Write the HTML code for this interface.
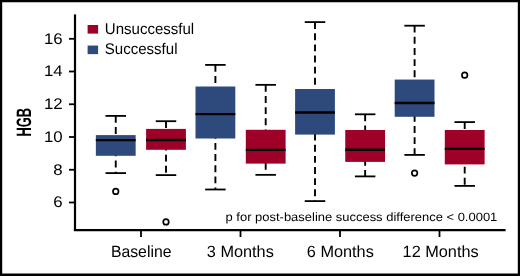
<!DOCTYPE html>
<html><head><meta charset="utf-8"><title>HGB boxplot</title>
<style>html,body{margin:0;padding:0;background:#fff;}svg{display:block;will-change:transform;}text{text-rendering:geometricPrecision;}</style>
</head><body>
<svg width="520" height="276" viewBox="0 0 520 276">
<rect x="0" y="0" width="520" height="276" fill="#fff"/>
<path d="M0 0H520V276H0Z M2.2 2.15H517.8V273.5H2.2Z" fill="#000" fill-rule="evenodd"/>
<g stroke="#000" stroke-width="2.2" fill="none">
<path d="M75 14.4V231"/>
<path d="M73.9 230.1H505.6"/>
</g>
<g stroke="#000" stroke-width="1.8" fill="none">
<path d="M69 38.8H75"/>
<path d="M69 71.5H75"/>
<path d="M69 104.25H75"/>
<path d="M69 137.0H75"/>
<path d="M69 169.75H75"/>
<path d="M69 202.5H75"/>
<path d="M141 230V237"/>
<path d="M240.5 230V237"/>
<path d="M340 230V237"/>
<path d="M439.5 230V237"/>
</g>
<g stroke="#000" stroke-width="1.8" fill="none">
<path d="M115.75 115.9V173.1" stroke-dasharray="6.9 4.25" stroke-width="1.9"/>
<path d="M105.5 115.9H126.0"/>
<path d="M105.5 173.1H126.0"/>
</g>
<rect x="95.85" y="135.1" width="39.8" height="20.7" fill="#2E4A7C"/>
<path d="M95.85 140.1H135.65" stroke="#000" stroke-width="2.4"/>
<circle cx="115.75" cy="191.4" r="2.75" fill="none" stroke="#000" stroke-width="1.7"/>
<g stroke="#000" stroke-width="1.8" fill="none">
<path d="M166.0 121.2V175.1" stroke-dasharray="6.9 4.25" stroke-width="1.9"/>
<path d="M155.75 121.2H176.25"/>
<path d="M155.75 175.1H176.25"/>
</g>
<rect x="146.1" y="128.9" width="39.8" height="20.9" fill="#9E0028"/>
<path d="M146.1 140.0H185.9" stroke="#000" stroke-width="2.4"/>
<circle cx="166.0" cy="221.9" r="2.75" fill="none" stroke="#000" stroke-width="1.7"/>
<g stroke="#000" stroke-width="1.8" fill="none">
<path d="M215.4 64.9V189.5" stroke-dasharray="6.9 4.25" stroke-width="1.9"/>
<path d="M205.15 64.9H225.65"/>
<path d="M205.15 189.5H225.65"/>
</g>
<rect x="195.5" y="86.5" width="39.8" height="52.0" fill="#2E4A7C"/>
<path d="M195.5 114.15H235.3" stroke="#000" stroke-width="2.4"/>
<g stroke="#000" stroke-width="1.8" fill="none">
<path d="M265.7 84.85V174.85" stroke-dasharray="6.9 4.25" stroke-width="1.9"/>
<path d="M255.45 84.85H275.95"/>
<path d="M255.45 174.85H275.95"/>
</g>
<rect x="245.8" y="129.8" width="39.8" height="33.8" fill="#9E0028"/>
<path d="M245.8 149.9H285.6" stroke="#000" stroke-width="2.4"/>
<g stroke="#000" stroke-width="1.8" fill="none">
<path d="M315.0 22.1V201.1" stroke-dasharray="6.9 4.25" stroke-width="1.9"/>
<path d="M304.75 22.1H325.25"/>
<path d="M304.75 201.1H325.25"/>
</g>
<rect x="295.1" y="89.0" width="39.8" height="45.6" fill="#2E4A7C"/>
<path d="M295.1 112.45H334.9" stroke="#000" stroke-width="2.4"/>
<g stroke="#000" stroke-width="1.8" fill="none">
<path d="M365.15 114.3V176.4" stroke-dasharray="6.9 4.25" stroke-width="1.9"/>
<path d="M354.9 114.3H375.4"/>
<path d="M354.9 176.4H375.4"/>
</g>
<rect x="345.25" y="130.0" width="39.8" height="31.9" fill="#9E0028"/>
<path d="M345.25 149.75H385.05" stroke="#000" stroke-width="2.4"/>
<g stroke="#000" stroke-width="1.8" fill="none">
<path d="M414.6 25.7V154.9" stroke-dasharray="6.9 4.25" stroke-width="1.9"/>
<path d="M404.35 25.7H424.85"/>
<path d="M404.35 154.9H424.85"/>
</g>
<rect x="394.7" y="79.55" width="39.8" height="37.25" fill="#2E4A7C"/>
<path d="M394.7 103.0H434.5" stroke="#000" stroke-width="2.4"/>
<circle cx="414.6" cy="173.05" r="2.75" fill="none" stroke="#000" stroke-width="1.7"/>
<g stroke="#000" stroke-width="1.8" fill="none">
<path d="M464.7 122.1V185.9" stroke-dasharray="6.9 4.25" stroke-width="1.9"/>
<path d="M454.45 122.1H474.95"/>
<path d="M454.45 185.9H474.95"/>
</g>
<rect x="444.8" y="130.0" width="39.8" height="34.4" fill="#9E0028"/>
<path d="M444.8 148.9H484.6" stroke="#000" stroke-width="2.4"/>
<circle cx="464.7" cy="75.2" r="2.75" fill="none" stroke="#000" stroke-width="1.7"/>
<rect x="87.6" y="25" width="10.5" height="8.6" fill="#9E0028"/>
<rect x="87.6" y="45.55" width="10.5" height="8.6" fill="#2E4A7C"/>
<text transform="translate(104.8 34) scale(0.97 1)" font-size="15.5" font-family="'Liberation Sans', Arial, Helvetica, sans-serif" fill="#000">Unsuccessful</text>
<text transform="translate(104.8 54.3) scale(0.97 1)" font-size="15.5" font-family="'Liberation Sans', Arial, Helvetica, sans-serif" fill="#000">Successful</text>
<text transform="translate(62.7 43.65) scale(1.09 1)" font-size="15.45" text-anchor="end" font-family="'Liberation Sans', Arial, Helvetica, sans-serif" fill="#000">16</text>
<text transform="translate(62.7 76.45) scale(1.09 1)" font-size="15.45" text-anchor="end" font-family="'Liberation Sans', Arial, Helvetica, sans-serif" fill="#000">14</text>
<text transform="translate(62.7 109.15) scale(1.09 1)" font-size="15.45" text-anchor="end" font-family="'Liberation Sans', Arial, Helvetica, sans-serif" fill="#000">12</text>
<text transform="translate(62.7 141.70) scale(1.09 1)" font-size="15.45" text-anchor="end" font-family="'Liberation Sans', Arial, Helvetica, sans-serif" fill="#000">10</text>
<text transform="translate(62.7 174.65) scale(1.09 1)" font-size="15.45" text-anchor="end" font-family="'Liberation Sans', Arial, Helvetica, sans-serif" fill="#000">8</text>
<text transform="translate(62.7 207.35) scale(1.09 1)" font-size="15.45" text-anchor="end" font-family="'Liberation Sans', Arial, Helvetica, sans-serif" fill="#000">6</text>
<text transform="translate(141.2 257.1) scale(0.97 1)" font-size="16.3" text-anchor="middle" font-family="'Liberation Sans', Arial, Helvetica, sans-serif" fill="#000">Baseline</text>
<text transform="translate(240.3 257.1) scale(1 1)" font-size="16.3" text-anchor="middle" font-family="'Liberation Sans', Arial, Helvetica, sans-serif" fill="#000">3 Months</text>
<text transform="translate(340.3 257.1) scale(1 1)" font-size="16.3" text-anchor="middle" font-family="'Liberation Sans', Arial, Helvetica, sans-serif" fill="#000">6 Months</text>
<text transform="translate(440.6 257.1) scale(1 1)" font-size="16.3" text-anchor="middle" font-family="'Liberation Sans', Arial, Helvetica, sans-serif" fill="#000">12 Months</text>
<text transform="translate(497.3 220.5) scale(1.08 1)" font-size="12" text-anchor="end" font-family="'Liberation Sans', Arial, Helvetica, sans-serif" fill="#000">p for post-baseline success difference &lt; 0.0001</text>
<text transform="translate(31.15 136.6) rotate(-90) scale(0.62 1)" font-size="20.8" font-weight="bold" font-family="'Liberation Sans', Arial, Helvetica, sans-serif" fill="#000">HGB</text>
</svg>
</body></html>
